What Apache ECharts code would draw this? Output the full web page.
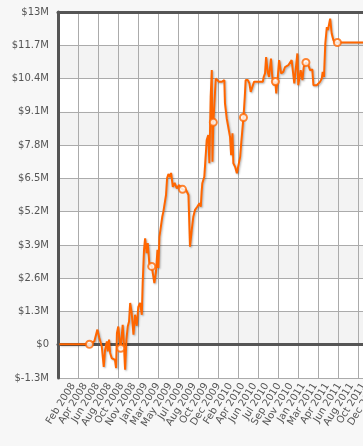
<!DOCTYPE html>
<html>
<head>
<meta charset="utf-8">
<script src="https://cdn.jsdelivr.net/npm/echarts@6/dist/echarts.min.js"></script>
<style>
html,body{margin:0;padding:0;background:#f7f7f7;}
#chart{width:363px;height:446px;}
</style>
</head>
<body>
<div id="chart"></div>
<script>
// x positions: days since 2008-01-01
var xDays = [16,153,175,189,198,209,218,224,232,236,242,247,254,262,269,274,278,284,289,295,
  304,309,315,321,327,333,338,345,353,360,368,375,383,391,395,401,406,413,418,425,
  436,443,448,456,462,466,471,478,484,489,497,501,506,512,519,524,532,540,550,560,
  576,592,603,610,618,625,633,643,653,659,663,666,675,686,693,698,704,709,712,716,
  721,727,734,742,748,754,762,766,769,777,784,792,797,803,807,815,823,830,838,842,
  853,859,863,873,880,886,893,901,921,941,945,951,956,963,969,978,984,991,998,1002,
  1009,1015,1024,1034,1042,1050,1057,1065,1072,1080,1084,1092,1098,1102,1113,1121,1127,1137,1148,1156,
  1166,1171,1178,1186,1193,1201,1209,1213,1219,1225,1232,1237,1247,1254,1262,1269,1280,1500];
// values in $ millions
var values = [0.02,0.02,0.13,0.59,0.26,-0.07,-0.87,-0.2,0.13,-0.26,0.2,-0.32,-0.52,-0.46,-0.59,-0.91,0.46,0.71,0.26,-0.14,
  0.78,0.13,-0.98,0.2,0.71,0.91,1.63,1.24,0.39,1.17,0.74,1.48,1.63,1.17,2.41,3.71,4.16,3.58,3.97,3.19,
  3.06,3.12,2.41,2.89,3.71,3.0,4.21,4.21,5.0,5.2,5.27,5.85,6.51,6.67,6.55,6.71,6.17,6.32,6.11,6.24,
  6.07,6.05,5.85,3.83,4.49,5.0,5.27,5.39,5.53,5.39,5.98,6.31,6.56,8.0,8.19,7.09,9.68,10.73,7.15,8.69,
  9.43,10.4,10.4,10.27,10.34,10.27,10.34,10.34,9.43,8.84,8.78,8.12,7.41,8.26,7.09,6.95,6.7,6.76,7.34,7.8,
  8.88,9.68,10.34,10.34,10.21,9.88,9.95,10.27,10.27,10.27,10.46,10.6,11.24,10.66,10.46,11.18,10.46,10.14,10.28,9.82,
  10.46,11.12,10.6,10.66,10.85,10.85,10.92,10.85,11.12,11.18,10.21,10.14,11.38,10.14,10.73,10.34,10.85,11.03,10.92,10.73,
  10.75,10.14,10.07,10.14,10.07,10.27,10.4,10.66,10.46,11.77,12.41,12.29,12.74,12.16,11.9,11.81,11.81,11.81];
// indices of points drawn with a marker
var markerIdx = [1,19,40,60,79,100,118,137,156];

var xTickLabels = ['Feb 2008','Apr 2008','Jun 2008','Aug 2008','Oct 2008','Nov 2008','Jan 2009','Mar 2009',
  'May 2009','Jul 2009','Aug 2009','Oct 2009','Dec 2009','Feb 2010','Apr 2010','Jun 2010','Jul 2010',
  'Sep 2010','Nov 2010','Jan 2011','Mar 2011','Apr 2011','Jun 2011','Aug 2011','Oct 2011','Dec 2011'];
var xTickStart = 79, xTickStep = 55;
var yTickLabels = ['$-1.3M','$0','$1.3M','$2.6M','$3.9M','$5.2M','$6.5M','$7.8M','$9.1M','$10.4M','$11.7M','$13M'];
var yMin = -1.3, yStep = 1.3;

var lineData = xDays.map(function(d, i){ return [d, values[i]]; });
var markData = markerIdx.map(function(i){ return [xDays[i], values[i]]; });
// label positions, padded with one blank slot at each end
var xTickValues = [];
for (var k = -1; k <= xTickLabels.length; k++) xTickValues.push(xTickStart + xTickStep * k);

var FONT = 'DejaVu Sans';
var chart = echarts.init(document.getElementById('chart'), null, {renderer: 'canvas'});
chart.setOption({
  animation: false,
  backgroundColor: '#f7f7f7',
  grid: {left: 58, top: 12, width: 330, height: 366, outerBoundsMode: 'none', containLabel: false},
  xAxis: [{
    type: 'value', min: 10, max: 1510, position: 'bottom',
    axisLine: {show: true, lineStyle: {color: '#555', width: 3}},
    axisTick: {show: false},
    splitLine: {show: false},
    axisLabel: {
      customValues: xTickValues, hideOverlap: false, showMinLabel: false, showMaxLabel: false,
      rotate: 58, margin: 6, fontSize: 10, fontFamily: FONT, color: '#555',
      formatter: function(v){ var k = Math.round((v - xTickStart) / xTickStep); return xTickLabels[k] || ''; }
    }
  }, {
    type: 'value', min: 0, max: 1500, interval: 91, position: 'top',
    axisLine: {show: true, lineStyle: {color: '#555', width: 3}},
    axisTick: {show: false}, axisLabel: {show: false},
    splitLine: {show: true, showMinLine: false, lineStyle: {color: '#ababab', width: 1}}
  }],
  yAxis: {
    type: 'value', min: yMin, max: 13, interval: yStep, offset: 3,
    axisLine: {show: true, lineStyle: {color: '#555', width: 3}},
    axisTick: {show: false},
    axisLabel: {
      margin: 6, fontSize: 10, fontFamily: FONT, color: '#555',
      formatter: function(v){ return yTickLabels[Math.round((v - yMin) / yStep)]; }
    },
    splitLine: {show: true, lineStyle: {color: '#ababab', width: 1}},
    splitArea: {show: true, areaStyle: {color: ['#ffffff', '#f3f3f3']}}
  },
  series: [{
    type: 'line', xAxisIndex: 0, data: lineData, showSymbol: false,
    lineStyle: {color: '#ff6600', width: 2, shadowColor: 'rgba(0,0,0,0.3)', shadowBlur: 2, shadowOffsetX: 1, shadowOffsetY: 1},
    z: 3
  }, {
    type: 'scatter', xAxisIndex: 0, data: markData, symbol: 'circle', symbolSize: 7,
    itemStyle: {color: '#ffffff', borderColor: '#ff6600', borderWidth: 2},
    z: 4
  }]
});
</script>
</body>
</html>
